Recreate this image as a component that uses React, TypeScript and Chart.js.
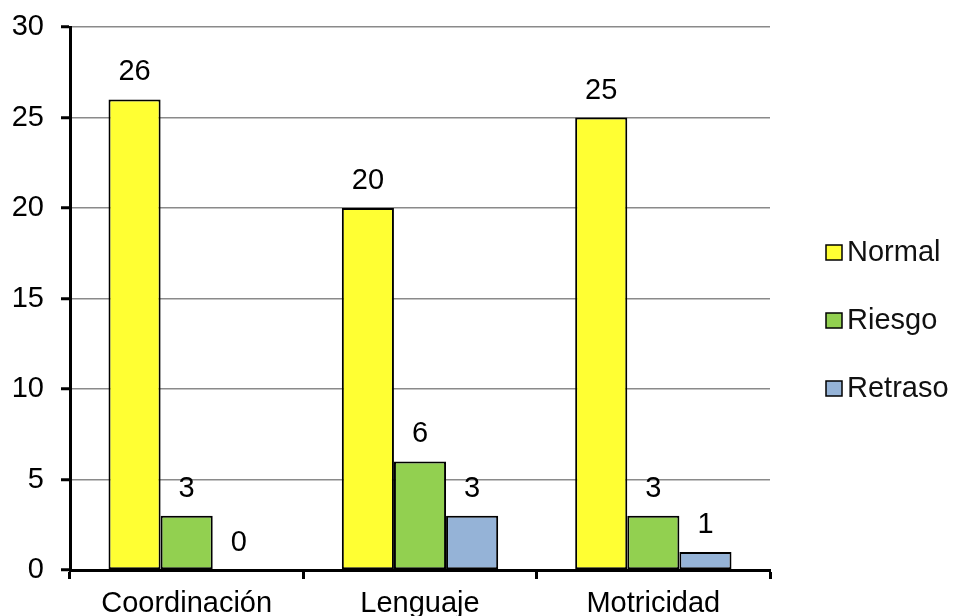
import React, { useEffect, useRef } from "react";
import { Chart, registerables } from "chart.js";

Chart.register(...registerables);

const categories = ["Coordinación", "Lenguaje", "Motricidad"];
const seriesNames = ["Normal", "Riesgo", "Retraso"];
const normalValues = [26, 20, 25];
const riesgoValues = [3, 6, 3];
const retrasoValues = [0, 3, 1];
const seriesColors = ["#FFFF33", "#92D050", "#95B3D7"];
const yMin = 0;
const yMax = 30;
const yStep = 5;

const FONT = '"Liberation Sans", Arial, Helvetica, sans-serif';
const FONT_SIZE = 29;

const valueLabels = {
  id: "valueLabels",
  afterDatasetsDraw(chart: any) {
    const ctx = chart.ctx;
    ctx.save();
    ctx.font = `${FONT_SIZE}px ${FONT}`;
    ctx.fillStyle = "#000";
    ctx.textAlign = "center";
    ctx.textBaseline = "middle";
    chart.data.datasets.forEach((ds: any, i: number) => {
      const meta = chart.getDatasetMeta(i);
      meta.data.forEach((el: any, j: number) => {
        ctx.fillText(String(ds.data[j]), el.x, el.y - 27);
      });
    });
    ctx.restore();
  },
};

const sideLegend = {
  id: "sideLegend",
  afterDraw(chart: any) {
    const ctx = chart.ctx;
    const area = chart.chartArea;
    const n = chart.data.datasets.length;
    const spacing = 68;
    const centerY = 320;
    const boxX = area.right + 56;
    ctx.save();
    ctx.font = `${FONT_SIZE}px ${FONT}`;
    ctx.textAlign = "left";
    ctx.textBaseline = "middle";
    chart.data.datasets.forEach((ds: any, i: number) => {
      const cy = centerY + (i - (n - 1) / 2) * spacing;
      ctx.fillStyle = ds.backgroundColor;
      ctx.fillRect(boxX, cy - 7, 16, 15);
      ctx.strokeStyle = "#000";
      ctx.lineWidth = 1.5;
      ctx.strokeRect(boxX, cy - 7, 16, 15);
      ctx.fillStyle = "#111";
      ctx.fillText(ds.label, boxX + 21, cy + 1);
    });
    ctx.restore();
  },
};

export default function App() {
  const ref = useRef<HTMLCanvasElement | null>(null);

  useEffect(() => {
    if (!ref.current) return;
    const allValues = [normalValues, riesgoValues, retrasoValues];
    const chart = new Chart(ref.current, {
      type: "bar",
      data: {
        labels: categories,
        datasets: seriesNames.map((name, i) => ({
          label: name,
          data: allValues[i],
          backgroundColor: seriesColors[i],
          borderColor: "#000",
          borderWidth: 2,
          borderSkipped: false,
          categoryPercentage: 0.67,
          barPercentage: 1.0,
        })),
      },
      options: {
        responsive: false,
        animation: false,
        layout: { padding: { top: 27, right: 183, bottom: 0, left: 0 } },
        plugins: {
          legend: { display: false },
          tooltip: { enabled: false },
        },
        scales: {
          x: {
            grid: {
              drawOnChartArea: false,
              drawTicks: true,
              tickLength: 9,
              tickColor: "#000",
              tickWidth: 3,
              offset: true,
            },
            border: { color: "#000", width: 3 },
            ticks: {
              color: "#000",
              font: { size: FONT_SIZE, family: FONT },
              padding: 8,
              maxRotation: 0,
              autoSkip: false,
            },
            afterFit: (s: any) => {
              s.height = 46;
              s.paddingLeft = 0;
              s.paddingRight = 0;
            },
          },
          y: {
            min: yMin,
            max: yMax,
            ticks: {
              stepSize: yStep,
              color: "#000",
              font: { size: FONT_SIZE, family: FONT },
              padding: 17,
            },
            grid: {
              color: "#8a8a8a",
              lineWidth: 1.5,
              tickColor: "#000",
              tickWidth: 3,
              tickLength: 9,
            },
            border: { color: "#000", width: 3 },
            afterFit: (s: any) => {
              s.width = 70;
              s.paddingTop = 0;
              s.paddingBottom = 0;
            },
          },
        },
      },
      plugins: [valueLabels, sideLegend],
    });
    return () => chart.destroy();
  }, []);

  return (
    <div style={{ position: "fixed", left: 0, top: 0, width: 953, height: 616, background: "#fff" }}>
      <canvas ref={ref} width={953} height={616} style={{ display: "block" }} />
    </div>
  );
}
